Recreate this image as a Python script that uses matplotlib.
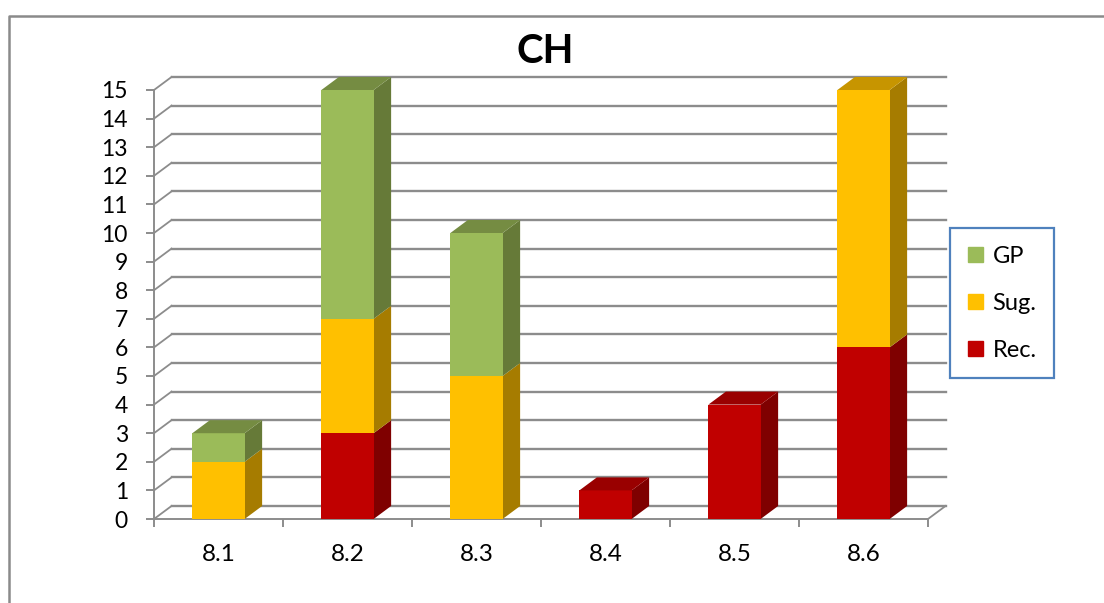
import numpy as np
import matplotlib
matplotlib.use("Agg")
import matplotlib.pyplot as plt
from matplotlib.lines import Line2D
from matplotlib.patches import Patch

categories = ["8.1", "8.2", "8.3", "8.4", "8.5", "8.6"]
rec = [0, 3, 0, 1, 4, 6]
sug = [2, 4, 5, 0, 0, 9]
gp = [1, 8, 5, 0, 0, 0]
y_ticks = list(range(0, 16))

W, H = 1104, 603
plt.rcParams['font.family'] = ['Lato', 'DejaVu Sans']

fig = plt.figure(figsize=(W / 100, H / 100), dpi=100)
ax = fig.add_axes([154 / W, (H - 519) / H, (928 - 154) / W, (519 - 90) / H])
ax.set_xlim(-0.5, 5.5)
ax.set_ylim(0, 15)
ax.patch.set_visible(False)

# 3d offset in data units
dx = 17.5 / 129
dy = 13 / 28.6
bar_w = 0.405
grid_col = '#8c8c8c'

# back wall and left wall
for v in y_ticks:
    ax.plot([-0.5 + dx, 5.5 + dx], [v + dy, v + dy], color=grid_col, lw=1.7, clip_on=False, zorder=1)
    ax.plot([-0.5, -0.5 + dx], [v, v + dy], color=grid_col, lw=1.3, clip_on=False, zorder=1)
ax.plot([5.5, 5.5 + dx], [0, dy], color=grid_col, lw=1.3, clip_on=False, zorder=1)

series = [
    ("Rec.", rec, '#c00000', '#7f0000', '#990000'),
    ("Sug.", sug, '#ffc000', '#a67c00', '#c79500'),
    ("GP", gp, '#9bbb59', '#667a38', '#758c42'),
]

x = np.arange(len(categories))
z = 3
# each column is drawn left to right, segments bottom to top
for i in x:
    b = 0
    last = None
    for name, vals, front, side, top in series:
        v = vals[i]
        if v == 0:
            continue
        r = i + bar_w / 2
        ax.fill([r, r + dx, r + dx, r], [b, b + dy, b + v + dy, b + v],
                color=side, lw=0, clip_on=False, zorder=z)
        ax.bar(i, v, bar_w, bottom=b, color=front, lw=0, zorder=z)
        b += v
        last = top
    l = i - bar_w / 2
    r = i + bar_w / 2
    ax.fill([l, r, r + dx, l + dx], [b, b, b + dy, b + dy], color=last, lw=0, clip_on=False, zorder=z)

for s in ['top', 'right']:
    ax.spines[s].set_visible(False)
for s in ['left', 'bottom']:
    ax.spines[s].set_color(grid_col)
    ax.spines[s].set_linewidth(1.4)

ax.set_yticks(y_ticks)
ax.tick_params(axis='y', length=5.8, width=1.4, color=grid_col, pad=13, labelsize=16.5, labelcolor='black')
ax.set_xticks(np.arange(-0.5, 6, 1))
ax.set_xticklabels([])
ax.set_xticks(x, minor=True)
ax.set_xticklabels(categories, minor=True)
ax.tick_params(axis='x', which='major', length=5.8, width=1.4, color=grid_col)
ax.tick_params(axis='x', which='minor', length=0, pad=18, labelsize=17.5, labelcolor='black')

ax.set_title("CH", x=(545 - 154) / (928 - 154), pad=19.5, fontsize=29, fontweight='bold')

handles = [Patch(color=c, label=n) for n, c in [("GP", '#9bbb59'), ("Sug.", '#ffc000'), ("Rec.", '#c00000')]]
leg = fig.legend(handles=handles, loc='upper left', bbox_to_anchor=(950 / W, (H - 228) / H),
                 bbox_transform=fig.transFigure, fontsize=17, frameon=True, fancybox=False,
                 edgecolor='#4f81bd', framealpha=1, borderaxespad=0, borderpad=0.75,
                 handlelength=0.635, handleheight=0.635, handletextpad=0.42, labelspacing=1.1)
leg.get_frame().set_linewidth(1.6)

# outer chart border, only top and left fall inside the image
fig.add_artist(Line2D([9 / W, 9 / W, 1], [0, (H - 16) / H, (H - 16) / H], color='#8a8a8a', lw=1.8))

fig.savefig("out.png", dpi=100)
